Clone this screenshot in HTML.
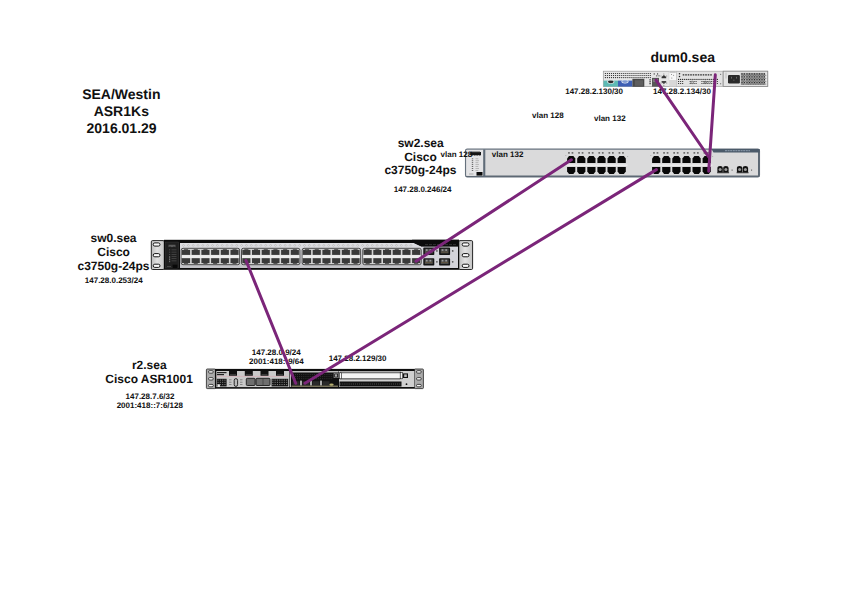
<!DOCTYPE html>
<html><head><meta charset="utf-8">
<style>
html,body{margin:0;padding:0;background:#fff;width:842px;height:595px;overflow:hidden}
svg{position:absolute;left:0;top:0}
text{font-family:"Liberation Sans",sans-serif;font-weight:bold;fill:#111;text-rendering:geometricPrecision}
</style></head>
<body>
<svg width="842" height="595" viewBox="0 0 842 595">
<g id="dum0">
<rect x="603.3" y="71.2" width="164.5" height="15.4" fill="#e6e6e6" stroke="#9a9a9a" stroke-width="0.7"/>
<circle cx="605.4" cy="73.5" r="0.62" fill="#1e1e1e"/>
<circle cx="607.44" cy="73.5" r="0.62" fill="#1e1e1e"/>
<circle cx="609.48" cy="73.5" r="0.62" fill="#1e1e1e"/>
<circle cx="611.52" cy="73.5" r="0.62" fill="#1e1e1e"/>
<circle cx="613.56" cy="73.5" r="0.62" fill="#1e1e1e"/>
<circle cx="615.6" cy="73.5" r="0.62" fill="#1e1e1e"/>
<circle cx="617.64" cy="73.5" r="0.62" fill="#1e1e1e"/>
<circle cx="619.68" cy="73.5" r="0.62" fill="#1e1e1e"/>
<circle cx="621.72" cy="73.5" r="0.62" fill="#1e1e1e"/>
<circle cx="623.76" cy="73.5" r="0.62" fill="#1e1e1e"/>
<circle cx="625.8" cy="73.5" r="0.62" fill="#1e1e1e"/>
<circle cx="627.84" cy="73.5" r="0.62" fill="#1e1e1e"/>
<circle cx="629.88" cy="73.5" r="0.62" fill="#1e1e1e"/>
<circle cx="631.92" cy="73.5" r="0.62" fill="#1e1e1e"/>
<circle cx="633.96" cy="73.5" r="0.62" fill="#1e1e1e"/>
<circle cx="636" cy="73.5" r="0.62" fill="#1e1e1e"/>
<circle cx="638.04" cy="73.5" r="0.62" fill="#1e1e1e"/>
<circle cx="640.08" cy="73.5" r="0.62" fill="#1e1e1e"/>
<circle cx="642.12" cy="73.5" r="0.62" fill="#1e1e1e"/>
<circle cx="644.16" cy="73.5" r="0.62" fill="#1e1e1e"/>
<circle cx="646.2" cy="73.5" r="0.62" fill="#1e1e1e"/>
<circle cx="648.24" cy="73.5" r="0.62" fill="#1e1e1e"/>
<circle cx="650.28" cy="73.5" r="0.62" fill="#1e1e1e"/>
<circle cx="605.4" cy="75.5" r="0.62" fill="#1e1e1e"/>
<circle cx="607.44" cy="75.5" r="0.62" fill="#1e1e1e"/>
<circle cx="609.48" cy="75.5" r="0.62" fill="#1e1e1e"/>
<circle cx="611.52" cy="75.5" r="0.62" fill="#1e1e1e"/>
<circle cx="613.56" cy="75.5" r="0.62" fill="#1e1e1e"/>
<circle cx="615.6" cy="75.5" r="0.62" fill="#1e1e1e"/>
<circle cx="617.64" cy="75.5" r="0.62" fill="#1e1e1e"/>
<circle cx="619.68" cy="75.5" r="0.62" fill="#1e1e1e"/>
<circle cx="621.72" cy="75.5" r="0.62" fill="#1e1e1e"/>
<circle cx="623.76" cy="75.5" r="0.62" fill="#1e1e1e"/>
<circle cx="625.8" cy="75.5" r="0.62" fill="#1e1e1e"/>
<circle cx="627.84" cy="75.5" r="0.62" fill="#1e1e1e"/>
<circle cx="629.88" cy="75.5" r="0.62" fill="#1e1e1e"/>
<circle cx="631.92" cy="75.5" r="0.62" fill="#1e1e1e"/>
<circle cx="633.96" cy="75.5" r="0.62" fill="#1e1e1e"/>
<circle cx="636" cy="75.5" r="0.62" fill="#1e1e1e"/>
<circle cx="638.04" cy="75.5" r="0.62" fill="#1e1e1e"/>
<circle cx="640.08" cy="75.5" r="0.62" fill="#1e1e1e"/>
<circle cx="642.12" cy="75.5" r="0.62" fill="#1e1e1e"/>
<circle cx="644.16" cy="75.5" r="0.62" fill="#1e1e1e"/>
<circle cx="646.2" cy="75.5" r="0.62" fill="#1e1e1e"/>
<circle cx="648.24" cy="75.5" r="0.62" fill="#1e1e1e"/>
<circle cx="650.28" cy="75.5" r="0.62" fill="#1e1e1e"/>
<circle cx="605.4" cy="77.6" r="0.62" fill="#1e1e1e"/>
<circle cx="607.44" cy="77.6" r="0.62" fill="#1e1e1e"/>
<circle cx="609.48" cy="77.6" r="0.62" fill="#1e1e1e"/>
<circle cx="611.52" cy="77.6" r="0.62" fill="#1e1e1e"/>
<circle cx="613.56" cy="77.6" r="0.62" fill="#1e1e1e"/>
<circle cx="615.6" cy="77.6" r="0.62" fill="#1e1e1e"/>
<circle cx="617.64" cy="77.6" r="0.62" fill="#1e1e1e"/>
<circle cx="619.68" cy="77.6" r="0.62" fill="#1e1e1e"/>
<circle cx="621.72" cy="77.6" r="0.62" fill="#1e1e1e"/>
<circle cx="623.76" cy="77.6" r="0.62" fill="#1e1e1e"/>
<circle cx="625.8" cy="77.6" r="0.62" fill="#1e1e1e"/>
<circle cx="627.84" cy="77.6" r="0.62" fill="#1e1e1e"/>
<circle cx="629.88" cy="77.6" r="0.62" fill="#1e1e1e"/>
<circle cx="631.92" cy="77.6" r="0.62" fill="#1e1e1e"/>
<circle cx="633.96" cy="77.6" r="0.62" fill="#1e1e1e"/>
<circle cx="636" cy="77.6" r="0.62" fill="#1e1e1e"/>
<circle cx="638.04" cy="77.6" r="0.62" fill="#1e1e1e"/>
<circle cx="640.08" cy="77.6" r="0.62" fill="#1e1e1e"/>
<circle cx="642.12" cy="77.6" r="0.62" fill="#1e1e1e"/>
<circle cx="644.16" cy="77.6" r="0.62" fill="#1e1e1e"/>
<circle cx="646.2" cy="77.6" r="0.62" fill="#1e1e1e"/>
<circle cx="648.24" cy="77.6" r="0.62" fill="#1e1e1e"/>
<circle cx="650.28" cy="77.6" r="0.62" fill="#1e1e1e"/>
<rect x="603.5" y="80.6" width="14.5" height="6" fill="#5dbab4"/>
<rect x="618" y="80.6" width="14.4" height="6" fill="#3d5fb5"/>
<ellipse cx="610.8" cy="81.8" rx="3.6" ry="1.9" fill="#f0f0f0"/>
<ellipse cx="610.8" cy="81.8" rx="2.9" ry="1.35" fill="#2a2a2a"/>
<ellipse cx="625" cy="81.6" rx="3.6" ry="1.9" fill="#e8eef8"/>
<ellipse cx="625" cy="81.6" rx="2.9" ry="1.3" fill="#7f9ad0"/>
<rect x="632.4" y="78.8" width="11.9" height="8" fill="#484848"/>
<rect x="634.8" y="80.2" width="8.2" height="5.6" fill="#5e5e5e"/>
<rect x="649.3" y="79.2" width="1.6" height="1.3" fill="#555"/>
<rect x="649.3" y="81.1" width="1.6" height="1.3" fill="#555"/>
<rect x="649.3" y="83" width="1.6" height="1.3" fill="#555"/>
<rect x="652" y="77.9" width="7" height="8.8" fill="#575757"/>
<rect x="653" y="79" width="5" height="3" fill="#7a7a7a"/>
<circle cx="654.2" cy="73.9" r="0.6" fill="#222"/>
<circle cx="657.6" cy="73.9" r="0.6" fill="#222"/>
<circle cx="656.8" cy="75.8" r="0.6" fill="#222"/>
<circle cx="659" cy="75.8" r="0.6" fill="#222"/>
<path d="M661.6,78.3 L661.6,77 L663.9,75 L666.2,77 L666.2,78.3 Z" fill="#333"/>
<path d="M661.6,80.9 L666.2,80.9 L666.2,82.3 L663.9,84 L661.6,82.3 Z" fill="#444"/>
<circle cx="661" cy="76" r="0.45" fill="#333"/>
<circle cx="666.8" cy="76" r="0.45" fill="#333"/>
<circle cx="661" cy="83" r="0.45" fill="#333"/>
<circle cx="666.8" cy="83" r="0.45" fill="#333"/>
<circle cx="663.9" cy="74" r="0.45" fill="#333"/>
<circle cx="663.9" cy="85.2" r="0.45" fill="#333"/>
<rect x="669" y="71.2" width="7.4" height="9.1" fill="#f7f7f7" stroke="#c0c0c0" stroke-width="0.4"/>
<rect x="669.6" y="71.6" width="6.2" height="0.9" fill="#999"/>
<circle cx="671.5" cy="74.5" r="0.5" fill="#777"/><circle cx="673.6" cy="75.2" r="0.5" fill="#777"/><circle cx="671.8" cy="78" r="0.5" fill="#777"/>
<rect x="669.2" y="80.3" width="7.2" height="6.2" fill="#d8d8d8"/>
<rect x="676.6" y="71.5" width="46" height="14.9" fill="#e2e2e2" stroke="#b0b0b0" stroke-width="0.4"/>
<circle cx="679.5" cy="73.8" r="0.75" fill="#222"/><circle cx="679.5" cy="76.4" r="0.75" fill="#222"/>
<line x1="682.7" y1="74.9" x2="712" y2="74.9" stroke="#2a2a2a" stroke-width="1.1" stroke-dasharray="1.6 0.9"/>
<circle cx="678.6" cy="79.4" r="0.62" fill="#1e1e1e"/>
<circle cx="680.64" cy="79.4" r="0.62" fill="#1e1e1e"/>
<circle cx="682.68" cy="79.4" r="0.62" fill="#1e1e1e"/>
<circle cx="684.72" cy="79.4" r="0.62" fill="#1e1e1e"/>
<circle cx="686.76" cy="79.4" r="0.62" fill="#1e1e1e"/>
<circle cx="688.8" cy="79.4" r="0.62" fill="#1e1e1e"/>
<circle cx="690.84" cy="79.4" r="0.62" fill="#1e1e1e"/>
<circle cx="692.88" cy="79.4" r="0.62" fill="#1e1e1e"/>
<circle cx="694.92" cy="79.4" r="0.62" fill="#1e1e1e"/>
<circle cx="696.96" cy="79.4" r="0.62" fill="#1e1e1e"/>
<circle cx="699" cy="79.4" r="0.62" fill="#1e1e1e"/>
<circle cx="701.04" cy="79.4" r="0.62" fill="#1e1e1e"/>
<circle cx="703.08" cy="79.4" r="0.62" fill="#1e1e1e"/>
<circle cx="705.12" cy="79.4" r="0.62" fill="#1e1e1e"/>
<circle cx="707.16" cy="79.4" r="0.62" fill="#1e1e1e"/>
<circle cx="709.2" cy="79.4" r="0.62" fill="#1e1e1e"/>
<circle cx="711.24" cy="79.4" r="0.62" fill="#1e1e1e"/>
<circle cx="713.28" cy="79.4" r="0.62" fill="#1e1e1e"/>
<circle cx="715.32" cy="79.4" r="0.62" fill="#1e1e1e"/>
<circle cx="717.36" cy="79.4" r="0.62" fill="#1e1e1e"/>
<circle cx="678.6" cy="81.5" r="0.62" fill="#1e1e1e"/>
<circle cx="680.64" cy="81.5" r="0.62" fill="#1e1e1e"/>
<circle cx="682.68" cy="81.5" r="0.62" fill="#1e1e1e"/>
<circle cx="684.72" cy="81.5" r="0.62" fill="#1e1e1e"/>
<circle cx="686.76" cy="81.5" r="0.62" fill="#1e1e1e"/>
<circle cx="688.8" cy="81.5" r="0.62" fill="#1e1e1e"/>
<circle cx="690.84" cy="81.5" r="0.62" fill="#1e1e1e"/>
<circle cx="692.88" cy="81.5" r="0.62" fill="#1e1e1e"/>
<circle cx="694.92" cy="81.5" r="0.62" fill="#1e1e1e"/>
<circle cx="696.96" cy="81.5" r="0.62" fill="#1e1e1e"/>
<circle cx="699" cy="81.5" r="0.62" fill="#1e1e1e"/>
<circle cx="701.04" cy="81.5" r="0.62" fill="#1e1e1e"/>
<circle cx="703.08" cy="81.5" r="0.62" fill="#1e1e1e"/>
<circle cx="705.12" cy="81.5" r="0.62" fill="#1e1e1e"/>
<circle cx="707.16" cy="81.5" r="0.62" fill="#1e1e1e"/>
<circle cx="709.2" cy="81.5" r="0.62" fill="#1e1e1e"/>
<circle cx="711.24" cy="81.5" r="0.62" fill="#1e1e1e"/>
<circle cx="713.28" cy="81.5" r="0.62" fill="#1e1e1e"/>
<circle cx="715.32" cy="81.5" r="0.62" fill="#1e1e1e"/>
<circle cx="717.36" cy="81.5" r="0.62" fill="#1e1e1e"/>
<circle cx="678.6" cy="83.5" r="0.62" fill="#1e1e1e"/>
<circle cx="680.64" cy="83.5" r="0.62" fill="#1e1e1e"/>
<circle cx="682.68" cy="83.5" r="0.62" fill="#1e1e1e"/>
<circle cx="684.72" cy="83.5" r="0.62" fill="#1e1e1e"/>
<circle cx="686.76" cy="83.5" r="0.62" fill="#1e1e1e"/>
<circle cx="688.8" cy="83.5" r="0.62" fill="#1e1e1e"/>
<circle cx="690.84" cy="83.5" r="0.62" fill="#1e1e1e"/>
<circle cx="692.88" cy="83.5" r="0.62" fill="#1e1e1e"/>
<circle cx="694.92" cy="83.5" r="0.62" fill="#1e1e1e"/>
<circle cx="696.96" cy="83.5" r="0.62" fill="#1e1e1e"/>
<circle cx="699" cy="83.5" r="0.62" fill="#1e1e1e"/>
<circle cx="701.04" cy="83.5" r="0.62" fill="#1e1e1e"/>
<circle cx="703.08" cy="83.5" r="0.62" fill="#1e1e1e"/>
<circle cx="705.12" cy="83.5" r="0.62" fill="#1e1e1e"/>
<circle cx="707.16" cy="83.5" r="0.62" fill="#1e1e1e"/>
<circle cx="709.2" cy="83.5" r="0.62" fill="#1e1e1e"/>
<circle cx="711.24" cy="83.5" r="0.62" fill="#1e1e1e"/>
<circle cx="713.28" cy="83.5" r="0.62" fill="#1e1e1e"/>
<circle cx="715.32" cy="83.5" r="0.62" fill="#1e1e1e"/>
<circle cx="717.36" cy="83.5" r="0.62" fill="#1e1e1e"/>
<circle cx="692.2" cy="82.4" r="1.3" fill="#ccc" stroke="#555" stroke-width="0.6"/>
<circle cx="705.3" cy="82.4" r="1.2" fill="#aaa" stroke="#444" stroke-width="0.6"/>
<circle cx="709.4" cy="82.4" r="1.2" fill="#ccc" stroke="#666" stroke-width="0.6"/>
<rect x="684" y="80.6" width="5" height="3.6" fill="#e2e2e2"/>
<rect x="697" y="80.6" width="4" height="3.6" fill="#e2e2e2"/>
<circle cx="720.7" cy="74.3" r="0.5" fill="#333"/><circle cx="720.7" cy="83.8" r="0.5" fill="#333"/>
<rect x="723.2" y="71.2" width="44.5" height="15.3" fill="#e4e4e4" stroke="#8a8a8a" stroke-width="0.8"/>
<line x1="726" y1="72.6" x2="726" y2="78.5" stroke="#999" stroke-width="0.5"/>
<rect x="728" y="74.9" width="11.9" height="8.6" rx="1.2" fill="#2a2a2a"/>
<rect x="731" y="76.8" width="0.8" height="1.8" fill="#777"/><rect x="736" y="76.8" width="0.8" height="1.8" fill="#777"/><rect x="733.5" y="79.6" width="0.8" height="1.2" fill="#777"/>
<rect x="740.8" y="72.9" width="24.3" height="12.1" fill="#939393"/>
<rect x="744.8" y="72.9" width="0.9" height="12.1" fill="#bdbdbd"/>
<circle cx="742" cy="73.9" r="0.6" fill="#1e1e1e"/>
<circle cx="743.25" cy="75.35" r="0.5" fill="#5a5a5a"/>
<circle cx="744.5" cy="73.9" r="0.6" fill="#1e1e1e"/>
<circle cx="745.75" cy="75.35" r="0.5" fill="#5a5a5a"/>
<circle cx="747" cy="73.9" r="0.6" fill="#1e1e1e"/>
<circle cx="748.25" cy="75.35" r="0.5" fill="#5a5a5a"/>
<circle cx="749.5" cy="73.9" r="0.6" fill="#1e1e1e"/>
<circle cx="750.75" cy="75.35" r="0.5" fill="#5a5a5a"/>
<circle cx="752" cy="73.9" r="0.6" fill="#1e1e1e"/>
<circle cx="753.25" cy="75.35" r="0.5" fill="#5a5a5a"/>
<circle cx="754.5" cy="73.9" r="0.6" fill="#1e1e1e"/>
<circle cx="755.75" cy="75.35" r="0.5" fill="#5a5a5a"/>
<circle cx="757" cy="73.9" r="0.6" fill="#1e1e1e"/>
<circle cx="758.25" cy="75.35" r="0.5" fill="#5a5a5a"/>
<circle cx="759.5" cy="73.9" r="0.6" fill="#1e1e1e"/>
<circle cx="760.75" cy="75.35" r="0.5" fill="#5a5a5a"/>
<circle cx="762" cy="73.9" r="0.6" fill="#1e1e1e"/>
<circle cx="763.25" cy="75.35" r="0.5" fill="#5a5a5a"/>
<circle cx="764.5" cy="73.9" r="0.6" fill="#1e1e1e"/>
<circle cx="765.75" cy="75.35" r="0.5" fill="#5a5a5a"/>
<circle cx="742" cy="76.8" r="0.6" fill="#1e1e1e"/>
<circle cx="743.25" cy="78.25" r="0.5" fill="#5a5a5a"/>
<circle cx="744.5" cy="76.8" r="0.6" fill="#1e1e1e"/>
<circle cx="745.75" cy="78.25" r="0.5" fill="#5a5a5a"/>
<circle cx="747" cy="76.8" r="0.6" fill="#1e1e1e"/>
<circle cx="748.25" cy="78.25" r="0.5" fill="#5a5a5a"/>
<circle cx="749.5" cy="76.8" r="0.6" fill="#1e1e1e"/>
<circle cx="750.75" cy="78.25" r="0.5" fill="#5a5a5a"/>
<circle cx="752" cy="76.8" r="0.6" fill="#1e1e1e"/>
<circle cx="753.25" cy="78.25" r="0.5" fill="#5a5a5a"/>
<circle cx="754.5" cy="76.8" r="0.6" fill="#1e1e1e"/>
<circle cx="755.75" cy="78.25" r="0.5" fill="#5a5a5a"/>
<circle cx="757" cy="76.8" r="0.6" fill="#1e1e1e"/>
<circle cx="758.25" cy="78.25" r="0.5" fill="#5a5a5a"/>
<circle cx="759.5" cy="76.8" r="0.6" fill="#1e1e1e"/>
<circle cx="760.75" cy="78.25" r="0.5" fill="#5a5a5a"/>
<circle cx="762" cy="76.8" r="0.6" fill="#1e1e1e"/>
<circle cx="763.25" cy="78.25" r="0.5" fill="#5a5a5a"/>
<circle cx="764.5" cy="76.8" r="0.6" fill="#1e1e1e"/>
<circle cx="765.75" cy="78.25" r="0.5" fill="#5a5a5a"/>
<circle cx="742" cy="79.7" r="0.6" fill="#1e1e1e"/>
<circle cx="743.25" cy="81.15" r="0.5" fill="#5a5a5a"/>
<circle cx="744.5" cy="79.7" r="0.6" fill="#1e1e1e"/>
<circle cx="745.75" cy="81.15" r="0.5" fill="#5a5a5a"/>
<circle cx="747" cy="79.7" r="0.6" fill="#1e1e1e"/>
<circle cx="748.25" cy="81.15" r="0.5" fill="#5a5a5a"/>
<circle cx="749.5" cy="79.7" r="0.6" fill="#1e1e1e"/>
<circle cx="750.75" cy="81.15" r="0.5" fill="#5a5a5a"/>
<circle cx="752" cy="79.7" r="0.6" fill="#1e1e1e"/>
<circle cx="753.25" cy="81.15" r="0.5" fill="#5a5a5a"/>
<circle cx="754.5" cy="79.7" r="0.6" fill="#1e1e1e"/>
<circle cx="755.75" cy="81.15" r="0.5" fill="#5a5a5a"/>
<circle cx="757" cy="79.7" r="0.6" fill="#1e1e1e"/>
<circle cx="758.25" cy="81.15" r="0.5" fill="#5a5a5a"/>
<circle cx="759.5" cy="79.7" r="0.6" fill="#1e1e1e"/>
<circle cx="760.75" cy="81.15" r="0.5" fill="#5a5a5a"/>
<circle cx="762" cy="79.7" r="0.6" fill="#1e1e1e"/>
<circle cx="763.25" cy="81.15" r="0.5" fill="#5a5a5a"/>
<circle cx="764.5" cy="79.7" r="0.6" fill="#1e1e1e"/>
<circle cx="765.75" cy="81.15" r="0.5" fill="#5a5a5a"/>
<circle cx="742" cy="82.6" r="0.6" fill="#1e1e1e"/>
<circle cx="743.25" cy="84.05" r="0.5" fill="#5a5a5a"/>
<circle cx="744.5" cy="82.6" r="0.6" fill="#1e1e1e"/>
<circle cx="745.75" cy="84.05" r="0.5" fill="#5a5a5a"/>
<circle cx="747" cy="82.6" r="0.6" fill="#1e1e1e"/>
<circle cx="748.25" cy="84.05" r="0.5" fill="#5a5a5a"/>
<circle cx="749.5" cy="82.6" r="0.6" fill="#1e1e1e"/>
<circle cx="750.75" cy="84.05" r="0.5" fill="#5a5a5a"/>
<circle cx="752" cy="82.6" r="0.6" fill="#1e1e1e"/>
<circle cx="753.25" cy="84.05" r="0.5" fill="#5a5a5a"/>
<circle cx="754.5" cy="82.6" r="0.6" fill="#1e1e1e"/>
<circle cx="755.75" cy="84.05" r="0.5" fill="#5a5a5a"/>
<circle cx="757" cy="82.6" r="0.6" fill="#1e1e1e"/>
<circle cx="758.25" cy="84.05" r="0.5" fill="#5a5a5a"/>
<circle cx="759.5" cy="82.6" r="0.6" fill="#1e1e1e"/>
<circle cx="760.75" cy="84.05" r="0.5" fill="#5a5a5a"/>
<circle cx="762" cy="82.6" r="0.6" fill="#1e1e1e"/>
<circle cx="763.25" cy="84.05" r="0.5" fill="#5a5a5a"/>
<circle cx="764.5" cy="82.6" r="0.6" fill="#1e1e1e"/>
<circle cx="765.75" cy="84.05" r="0.5" fill="#5a5a5a"/>
</g>
<g id="sw2">
<rect x="465.6" y="149.2" width="293.8" height="27.6" rx="1.6" fill="#dadadb" stroke="#66717d" stroke-width="1.3"/>
<line x1="466" y1="176.3" x2="759" y2="176.3" stroke="#5d6874" stroke-width="1.4"/>
<line x1="758.8" y1="150" x2="758.8" y2="176.5" stroke="#5d6874" stroke-width="1.6"/>
<path d="M711.5,149 L759.6,149 L759.6,152.4 L713.5,152.4 Z" fill="#4b5a6a"/>
<line x1="725" y1="150.7" x2="750" y2="150.7" stroke="#9fb0c0" stroke-width="0.8" stroke-dasharray="2 0.6"/>
<rect x="466.3" y="149.9" width="17" height="26" fill="#e4e4e6"/>
<rect x="483.2" y="149.5" width="2.1" height="27" fill="#5f6b78"/>
<path d="M470.3,152 L481,152 L481,155 Q479.5,156 478.5,155 Q477,156 476,155 Q474.5,156 473.5,155 Q472,156 471,155 L470.3,155 Z" fill="#151515"/>
<rect x="471" y="151.2" width="9" height="1" fill="#8a8a8a"/>
<rect x="471.8" y="158.5" width="1.4" height="0.7" fill="#333"/>
<rect x="475.5" y="158.4" width="2.8" height="0.8" fill="#aaa"/>
<rect x="471.8" y="160.45" width="1.4" height="0.7" fill="#333"/>
<rect x="475.5" y="160.35" width="3.5" height="0.8" fill="#aaa"/>
<rect x="471.8" y="162.4" width="1.4" height="0.7" fill="#333"/>
<rect x="475.5" y="162.3" width="2.8" height="0.8" fill="#aaa"/>
<rect x="471.8" y="164.35" width="1.4" height="0.7" fill="#333"/>
<rect x="475.5" y="164.25" width="3.5" height="0.8" fill="#aaa"/>
<rect x="471.8" y="166.3" width="1.4" height="0.7" fill="#333"/>
<rect x="475.5" y="166.2" width="2.8" height="0.8" fill="#aaa"/>
<rect x="471.8" y="168.25" width="1.4" height="0.7" fill="#333"/>
<rect x="475.5" y="168.15" width="3.5" height="0.8" fill="#aaa"/>
<rect x="471.8" y="170.2" width="1.4" height="0.7" fill="#333"/>
<rect x="475.5" y="170.1" width="2.8" height="0.8" fill="#aaa"/>
<rect x="476.5" y="172" width="6" height="3.6" fill="#0a0a0a"/>
<rect x="469" y="173.5" width="4.5" height="1" fill="#aaa"/>
<rect x="566.4" y="164.4" width="61" height="1.6" fill="#ececec"/>
<path d="M567.1,163 L567.1,158.6 L569,156.1 L573.4,156.1 L575.3,158.6 L575.3,163 Z" fill="#080808"/>
<path d="M567.1,167.1 L567.1,171.5 L569,174 L573.4,174 L575.3,171.5 L575.3,167.1 Z" fill="#080808"/>
<rect x="568.1" y="152.2" width="1.7" height="1.4" fill="#555"/>
<rect x="571.6" y="152.2" width="1.7" height="1.4" fill="#555"/>
<path d="M577.2,163 L577.2,158.6 L579.1,156.1 L583.5,156.1 L585.4,158.6 L585.4,163 Z" fill="#080808"/>
<path d="M577.2,167.1 L577.2,171.5 L579.1,174 L583.5,174 L585.4,171.5 L585.4,167.1 Z" fill="#080808"/>
<rect x="578.2" y="152.2" width="1.7" height="1.4" fill="#555"/>
<rect x="581.7" y="152.2" width="1.7" height="1.4" fill="#555"/>
<path d="M587.3,163 L587.3,158.6 L589.2,156.1 L593.6,156.1 L595.5,158.6 L595.5,163 Z" fill="#080808"/>
<path d="M587.3,167.1 L587.3,171.5 L589.2,174 L593.6,174 L595.5,171.5 L595.5,167.1 Z" fill="#080808"/>
<rect x="588.3" y="152.2" width="1.7" height="1.4" fill="#555"/>
<rect x="591.8" y="152.2" width="1.7" height="1.4" fill="#555"/>
<path d="M597.4,163 L597.4,158.6 L599.3,156.1 L603.7,156.1 L605.6,158.6 L605.6,163 Z" fill="#080808"/>
<path d="M597.4,167.1 L597.4,171.5 L599.3,174 L603.7,174 L605.6,171.5 L605.6,167.1 Z" fill="#080808"/>
<rect x="598.4" y="152.2" width="1.7" height="1.4" fill="#555"/>
<rect x="601.9" y="152.2" width="1.7" height="1.4" fill="#555"/>
<path d="M607.5,163 L607.5,158.6 L609.4,156.1 L613.8,156.1 L615.7,158.6 L615.7,163 Z" fill="#080808"/>
<path d="M607.5,167.1 L607.5,171.5 L609.4,174 L613.8,174 L615.7,171.5 L615.7,167.1 Z" fill="#080808"/>
<rect x="608.5" y="152.2" width="1.7" height="1.4" fill="#555"/>
<rect x="612" y="152.2" width="1.7" height="1.4" fill="#555"/>
<path d="M617.6,163 L617.6,158.6 L619.5,156.1 L623.9,156.1 L625.8,158.6 L625.8,163 Z" fill="#080808"/>
<path d="M617.6,167.1 L617.6,171.5 L619.5,174 L623.9,174 L625.8,171.5 L625.8,167.1 Z" fill="#080808"/>
<rect x="618.6" y="152.2" width="1.7" height="1.4" fill="#555"/>
<rect x="622.1" y="152.2" width="1.7" height="1.4" fill="#555"/>
<rect x="565.3" y="155" width="1" height="0.5" fill="#888"/>
<rect x="627.1" y="156" width="1" height="0.5" fill="#888"/>
<rect x="651.4" y="164.4" width="61" height="1.6" fill="#ececec"/>
<path d="M652.1,163 L652.1,158.6 L654,156.1 L658.4,156.1 L660.3,158.6 L660.3,163 Z" fill="#080808"/>
<path d="M652.1,167.1 L652.1,171.5 L654,174 L658.4,174 L660.3,171.5 L660.3,167.1 Z" fill="#080808"/>
<rect x="653.1" y="152.2" width="1.7" height="1.4" fill="#555"/>
<rect x="656.6" y="152.2" width="1.7" height="1.4" fill="#555"/>
<path d="M662.2,163 L662.2,158.6 L664.1,156.1 L668.5,156.1 L670.4,158.6 L670.4,163 Z" fill="#080808"/>
<path d="M662.2,167.1 L662.2,171.5 L664.1,174 L668.5,174 L670.4,171.5 L670.4,167.1 Z" fill="#080808"/>
<rect x="663.2" y="152.2" width="1.7" height="1.4" fill="#555"/>
<rect x="666.7" y="152.2" width="1.7" height="1.4" fill="#555"/>
<path d="M672.3,163 L672.3,158.6 L674.2,156.1 L678.6,156.1 L680.5,158.6 L680.5,163 Z" fill="#080808"/>
<path d="M672.3,167.1 L672.3,171.5 L674.2,174 L678.6,174 L680.5,171.5 L680.5,167.1 Z" fill="#080808"/>
<rect x="673.3" y="152.2" width="1.7" height="1.4" fill="#555"/>
<rect x="676.8" y="152.2" width="1.7" height="1.4" fill="#555"/>
<path d="M682.4,163 L682.4,158.6 L684.3,156.1 L688.7,156.1 L690.6,158.6 L690.6,163 Z" fill="#080808"/>
<path d="M682.4,167.1 L682.4,171.5 L684.3,174 L688.7,174 L690.6,171.5 L690.6,167.1 Z" fill="#080808"/>
<rect x="683.4" y="152.2" width="1.7" height="1.4" fill="#555"/>
<rect x="686.9" y="152.2" width="1.7" height="1.4" fill="#555"/>
<path d="M692.5,163 L692.5,158.6 L694.4,156.1 L698.8,156.1 L700.7,158.6 L700.7,163 Z" fill="#080808"/>
<path d="M692.5,167.1 L692.5,171.5 L694.4,174 L698.8,174 L700.7,171.5 L700.7,167.1 Z" fill="#080808"/>
<rect x="693.5" y="152.2" width="1.7" height="1.4" fill="#555"/>
<rect x="697" y="152.2" width="1.7" height="1.4" fill="#555"/>
<path d="M702.6,163 L702.6,158.6 L704.5,156.1 L708.9,156.1 L710.8,158.6 L710.8,163 Z" fill="#080808"/>
<path d="M702.6,167.1 L702.6,171.5 L704.5,174 L708.9,174 L710.8,171.5 L710.8,167.1 Z" fill="#080808"/>
<rect x="703.6" y="152.2" width="1.7" height="1.4" fill="#555"/>
<rect x="707.1" y="152.2" width="1.7" height="1.4" fill="#555"/>
<rect x="650.3" y="155" width="1" height="0.5" fill="#888"/>
<rect x="712.1" y="156" width="1" height="0.5" fill="#888"/>
<path d="M717.4,172.6 L717.4,168 Q717.4,165.9 720.1,165.9 Q722.8,165.9 722.8,168 L722.8,172.6 Z" fill="#111"/>
<circle cx="720.1" cy="169.6" r="1.5" fill="#9a9a9a"/>
<path d="M723.2,172.6 L723.2,168 Q723.2,165.9 725.9,165.9 Q728.6,165.9 728.6,168 L728.6,172.6 Z" fill="#111"/>
<circle cx="725.9" cy="169.6" r="1.5" fill="#9a9a9a"/>
<rect x="717.1" y="172.4" width="12" height="0.8" fill="#111"/>
<rect x="731.6" y="169.6" width="1" height="1" fill="#444"/>
<path d="M736.9,172.6 L736.9,168 Q736.9,165.9 739.6,165.9 Q742.3,165.9 742.3,168 L742.3,172.6 Z" fill="#111"/>
<circle cx="739.6" cy="169.6" r="1.5" fill="#9a9a9a"/>
<path d="M742.7,172.6 L742.7,168 Q742.7,165.9 745.4,165.9 Q748.1,165.9 748.1,168 L748.1,172.6 Z" fill="#111"/>
<circle cx="745.4" cy="169.6" r="1.5" fill="#9a9a9a"/>
<rect x="736.6" y="172.4" width="12" height="0.8" fill="#111"/>
<rect x="751.1" y="169.6" width="1" height="1" fill="#444"/>
</g>
<g id="sw0">
<defs><linearGradient id="ge" x1="0" y1="0" x2="1" y2="0"><stop offset="0" stop-color="#bdbdbd"/><stop offset="0.45" stop-color="#e2e2e2"/><stop offset="1" stop-color="#c4c4c4"/></linearGradient><linearGradient id="g0" x1="0" y1="0" x2="0" y2="1"><stop offset="0" stop-color="#dedee2"/><stop offset="0.5" stop-color="#cfcfd3"/><stop offset="1" stop-color="#c2c2c6"/></linearGradient></defs>
<rect x="151.3" y="240.6" width="13" height="28.9" rx="1.2" fill="url(#ge)" stroke="#111" stroke-width="0.9"/>
<rect x="458.8" y="240.6" width="13.8" height="28.9" rx="1.2" fill="url(#ge)" stroke="#111" stroke-width="0.9"/>
<rect x="153.2" y="242.9" width="6.8" height="3.2" rx="1.6" fill="#fbfbfb" stroke="#0a0a0a" stroke-width="0.95"/>
<rect x="153.2" y="253.6" width="6.8" height="3.2" rx="1.6" fill="#fbfbfb" stroke="#0a0a0a" stroke-width="0.95"/>
<rect x="153.2" y="264.2" width="6.8" height="3.2" rx="1.6" fill="#fbfbfb" stroke="#0a0a0a" stroke-width="0.95"/>
<rect x="462.2" y="242.9" width="6.8" height="3.2" rx="1.6" fill="#fbfbfb" stroke="#0a0a0a" stroke-width="0.95"/>
<rect x="462.2" y="253.6" width="6.8" height="3.2" rx="1.6" fill="#fbfbfb" stroke="#0a0a0a" stroke-width="0.95"/>
<rect x="462.2" y="264.2" width="6.8" height="3.2" rx="1.6" fill="#fbfbfb" stroke="#0a0a0a" stroke-width="0.95"/>
<rect x="164" y="239.8" width="295" height="30" fill="#0b0b0b"/>
<rect x="165.6" y="242" width="13" height="26" fill="#1f1f1f" stroke="#3a3a3a" stroke-width="0.5"/>
<path d="M168.5,244.8 L175.5,244.8 L175.5,247.3 L174,246.6 L172,247.3 L170,246.6 L168.5,247.3 Z" fill="#5a5a5a"/>
<rect x="171.5" y="249.6" width="5" height="0.6" fill="#555"/>
<rect x="169" y="249.6" width="1.2" height="0.6" fill="#6a6a6a"/>
<rect x="171.5" y="251.8" width="5" height="0.6" fill="#555"/>
<rect x="169" y="251.8" width="1.2" height="0.6" fill="#6a6a6a"/>
<rect x="171.5" y="254" width="5" height="0.6" fill="#555"/>
<rect x="169" y="254" width="1.2" height="0.6" fill="#6a6a6a"/>
<rect x="171.5" y="256.2" width="5" height="0.6" fill="#555"/>
<rect x="169" y="256.2" width="1.2" height="1.6" fill="#6a6a6a"/>
<rect x="171.5" y="258.4" width="5" height="0.6" fill="#555"/>
<rect x="169" y="258.4" width="1.2" height="1.6" fill="#6a6a6a"/>
<rect x="171.5" y="260.6" width="5" height="0.6" fill="#555"/>
<rect x="169" y="260.6" width="1.2" height="1.6" fill="#6a6a6a"/>
<rect x="172.6" y="264.7" width="4.8" height="3.3" fill="#080808"/>
<rect x="167" y="266" width="4" height="0.7" fill="#555"/>
<path d="M180,243.1 L414,243.1 L421.5,246.5 L458,246.5 L458,267.9 L180,267.9 Z" fill="url(#g0)"/>
<rect x="421.5" y="246.5" width="36.5" height="21.4" fill="#d4d4da"/>
<circle cx="183.5" cy="245.4" r="0.85" fill="#f4f4f4" stroke="#9a9a9a" stroke-width="0.45"/>
<circle cx="188.34" cy="245.4" r="0.85" fill="#f4f4f4" stroke="#9a9a9a" stroke-width="0.45"/>
<circle cx="193.18" cy="245.4" r="0.85" fill="#f4f4f4" stroke="#9a9a9a" stroke-width="0.45"/>
<circle cx="198.02" cy="245.4" r="0.85" fill="#f4f4f4" stroke="#9a9a9a" stroke-width="0.45"/>
<circle cx="202.86" cy="245.4" r="0.85" fill="#f4f4f4" stroke="#9a9a9a" stroke-width="0.45"/>
<circle cx="207.7" cy="245.4" r="0.85" fill="#f4f4f4" stroke="#9a9a9a" stroke-width="0.45"/>
<circle cx="212.54" cy="245.4" r="0.85" fill="#f4f4f4" stroke="#9a9a9a" stroke-width="0.45"/>
<circle cx="217.38" cy="245.4" r="0.85" fill="#f4f4f4" stroke="#9a9a9a" stroke-width="0.45"/>
<circle cx="222.22" cy="245.4" r="0.85" fill="#f4f4f4" stroke="#9a9a9a" stroke-width="0.45"/>
<circle cx="227.06" cy="245.4" r="0.85" fill="#f4f4f4" stroke="#9a9a9a" stroke-width="0.45"/>
<circle cx="231.9" cy="245.4" r="0.85" fill="#f4f4f4" stroke="#9a9a9a" stroke-width="0.45"/>
<circle cx="236.74" cy="245.4" r="0.85" fill="#f4f4f4" stroke="#9a9a9a" stroke-width="0.45"/>
<circle cx="241.58" cy="245.4" r="0.85" fill="#f4f4f4" stroke="#9a9a9a" stroke-width="0.45"/>
<circle cx="246.42" cy="245.4" r="0.85" fill="#f4f4f4" stroke="#9a9a9a" stroke-width="0.45"/>
<circle cx="251.26" cy="245.4" r="0.85" fill="#f4f4f4" stroke="#9a9a9a" stroke-width="0.45"/>
<circle cx="256.1" cy="245.4" r="0.85" fill="#f4f4f4" stroke="#9a9a9a" stroke-width="0.45"/>
<circle cx="260.94" cy="245.4" r="0.85" fill="#f4f4f4" stroke="#9a9a9a" stroke-width="0.45"/>
<circle cx="265.78" cy="245.4" r="0.85" fill="#f4f4f4" stroke="#9a9a9a" stroke-width="0.45"/>
<circle cx="270.62" cy="245.4" r="0.85" fill="#f4f4f4" stroke="#9a9a9a" stroke-width="0.45"/>
<circle cx="275.46" cy="245.4" r="0.85" fill="#f4f4f4" stroke="#9a9a9a" stroke-width="0.45"/>
<circle cx="280.3" cy="245.4" r="0.85" fill="#f4f4f4" stroke="#9a9a9a" stroke-width="0.45"/>
<circle cx="285.14" cy="245.4" r="0.85" fill="#f4f4f4" stroke="#9a9a9a" stroke-width="0.45"/>
<circle cx="289.98" cy="245.4" r="0.85" fill="#f4f4f4" stroke="#9a9a9a" stroke-width="0.45"/>
<circle cx="294.82" cy="245.4" r="0.85" fill="#f4f4f4" stroke="#9a9a9a" stroke-width="0.45"/>
<circle cx="299.66" cy="245.4" r="0.85" fill="#f4f4f4" stroke="#9a9a9a" stroke-width="0.45"/>
<circle cx="304.5" cy="245.4" r="0.85" fill="#f4f4f4" stroke="#9a9a9a" stroke-width="0.45"/>
<circle cx="309.34" cy="245.4" r="0.85" fill="#f4f4f4" stroke="#9a9a9a" stroke-width="0.45"/>
<circle cx="314.18" cy="245.4" r="0.85" fill="#f4f4f4" stroke="#9a9a9a" stroke-width="0.45"/>
<circle cx="319.02" cy="245.4" r="0.85" fill="#f4f4f4" stroke="#9a9a9a" stroke-width="0.45"/>
<circle cx="323.86" cy="245.4" r="0.85" fill="#f4f4f4" stroke="#9a9a9a" stroke-width="0.45"/>
<circle cx="328.7" cy="245.4" r="0.85" fill="#f4f4f4" stroke="#9a9a9a" stroke-width="0.45"/>
<circle cx="333.54" cy="245.4" r="0.85" fill="#f4f4f4" stroke="#9a9a9a" stroke-width="0.45"/>
<circle cx="338.38" cy="245.4" r="0.85" fill="#f4f4f4" stroke="#9a9a9a" stroke-width="0.45"/>
<circle cx="343.22" cy="245.4" r="0.85" fill="#f4f4f4" stroke="#9a9a9a" stroke-width="0.45"/>
<circle cx="348.06" cy="245.4" r="0.85" fill="#f4f4f4" stroke="#9a9a9a" stroke-width="0.45"/>
<circle cx="352.9" cy="245.4" r="0.85" fill="#f4f4f4" stroke="#9a9a9a" stroke-width="0.45"/>
<circle cx="357.74" cy="245.4" r="0.85" fill="#f4f4f4" stroke="#9a9a9a" stroke-width="0.45"/>
<circle cx="362.58" cy="245.4" r="0.85" fill="#f4f4f4" stroke="#9a9a9a" stroke-width="0.45"/>
<circle cx="367.42" cy="245.4" r="0.85" fill="#f4f4f4" stroke="#9a9a9a" stroke-width="0.45"/>
<circle cx="372.26" cy="245.4" r="0.85" fill="#f4f4f4" stroke="#9a9a9a" stroke-width="0.45"/>
<circle cx="377.1" cy="245.4" r="0.85" fill="#f4f4f4" stroke="#9a9a9a" stroke-width="0.45"/>
<circle cx="381.94" cy="245.4" r="0.85" fill="#f4f4f4" stroke="#9a9a9a" stroke-width="0.45"/>
<circle cx="386.78" cy="245.4" r="0.85" fill="#f4f4f4" stroke="#9a9a9a" stroke-width="0.45"/>
<circle cx="391.62" cy="245.4" r="0.85" fill="#f4f4f4" stroke="#9a9a9a" stroke-width="0.45"/>
<circle cx="396.46" cy="245.4" r="0.85" fill="#f4f4f4" stroke="#9a9a9a" stroke-width="0.45"/>
<circle cx="401.3" cy="245.4" r="0.85" fill="#f4f4f4" stroke="#9a9a9a" stroke-width="0.45"/>
<circle cx="406.14" cy="245.4" r="0.85" fill="#f4f4f4" stroke="#9a9a9a" stroke-width="0.45"/>
<circle cx="410.98" cy="245.4" r="0.85" fill="#f4f4f4" stroke="#9a9a9a" stroke-width="0.45"/>
<rect x="181.2" y="248.3" width="58.4" height="16.4" rx="1.8" fill="#d6d6d6" stroke="#262626" stroke-width="0.8"/>
<rect x="181.7" y="255.1" width="57.4" height="2.9" fill="#ededed"/>
<rect x="182" y="249.9" width="8.1" height="5" fill="#3a3a3a"/>
<rect x="184" y="249.3" width="4.1" height="0.8" fill="#3a3a3a"/>
<rect x="182" y="258.2" width="8.1" height="4.9" fill="#3a3a3a"/>
<rect x="184" y="263" width="4.1" height="0.8" fill="#3a3a3a"/>
<rect x="191.7" y="249.9" width="8.1" height="5" fill="#3a3a3a"/>
<rect x="193.7" y="249.3" width="4.1" height="0.8" fill="#3a3a3a"/>
<rect x="191.7" y="258.2" width="8.1" height="4.9" fill="#3a3a3a"/>
<rect x="193.7" y="263" width="4.1" height="0.8" fill="#3a3a3a"/>
<rect x="201.4" y="249.9" width="8.1" height="5" fill="#3a3a3a"/>
<rect x="203.4" y="249.3" width="4.1" height="0.8" fill="#3a3a3a"/>
<rect x="201.4" y="258.2" width="8.1" height="4.9" fill="#3a3a3a"/>
<rect x="203.4" y="263" width="4.1" height="0.8" fill="#3a3a3a"/>
<rect x="211.1" y="249.9" width="8.1" height="5" fill="#3a3a3a"/>
<rect x="213.1" y="249.3" width="4.1" height="0.8" fill="#3a3a3a"/>
<rect x="211.1" y="258.2" width="8.1" height="4.9" fill="#3a3a3a"/>
<rect x="213.1" y="263" width="4.1" height="0.8" fill="#3a3a3a"/>
<rect x="220.8" y="249.9" width="8.1" height="5" fill="#3a3a3a"/>
<rect x="222.8" y="249.3" width="4.1" height="0.8" fill="#3a3a3a"/>
<rect x="220.8" y="258.2" width="8.1" height="4.9" fill="#3a3a3a"/>
<rect x="222.8" y="263" width="4.1" height="0.8" fill="#3a3a3a"/>
<rect x="230.5" y="249.9" width="8.1" height="5" fill="#3a3a3a"/>
<rect x="232.5" y="249.3" width="4.1" height="0.8" fill="#3a3a3a"/>
<rect x="230.5" y="258.2" width="8.1" height="4.9" fill="#3a3a3a"/>
<rect x="232.5" y="263" width="4.1" height="0.8" fill="#3a3a3a"/>
<rect x="241.5" y="248.3" width="58.4" height="16.4" rx="1.8" fill="#d6d6d6" stroke="#262626" stroke-width="0.8"/>
<rect x="242" y="255.1" width="57.4" height="2.9" fill="#ededed"/>
<rect x="242.3" y="249.9" width="8.1" height="5" fill="#3a3a3a"/>
<rect x="244.3" y="249.3" width="4.1" height="0.8" fill="#3a3a3a"/>
<rect x="242.3" y="258.2" width="8.1" height="4.9" fill="#3a3a3a"/>
<rect x="244.3" y="263" width="4.1" height="0.8" fill="#3a3a3a"/>
<rect x="252" y="249.9" width="8.1" height="5" fill="#3a3a3a"/>
<rect x="254" y="249.3" width="4.1" height="0.8" fill="#3a3a3a"/>
<rect x="252" y="258.2" width="8.1" height="4.9" fill="#3a3a3a"/>
<rect x="254" y="263" width="4.1" height="0.8" fill="#3a3a3a"/>
<rect x="261.7" y="249.9" width="8.1" height="5" fill="#3a3a3a"/>
<rect x="263.7" y="249.3" width="4.1" height="0.8" fill="#3a3a3a"/>
<rect x="261.7" y="258.2" width="8.1" height="4.9" fill="#3a3a3a"/>
<rect x="263.7" y="263" width="4.1" height="0.8" fill="#3a3a3a"/>
<rect x="271.4" y="249.9" width="8.1" height="5" fill="#3a3a3a"/>
<rect x="273.4" y="249.3" width="4.1" height="0.8" fill="#3a3a3a"/>
<rect x="271.4" y="258.2" width="8.1" height="4.9" fill="#3a3a3a"/>
<rect x="273.4" y="263" width="4.1" height="0.8" fill="#3a3a3a"/>
<rect x="281.1" y="249.9" width="8.1" height="5" fill="#3a3a3a"/>
<rect x="283.1" y="249.3" width="4.1" height="0.8" fill="#3a3a3a"/>
<rect x="281.1" y="258.2" width="8.1" height="4.9" fill="#3a3a3a"/>
<rect x="283.1" y="263" width="4.1" height="0.8" fill="#3a3a3a"/>
<rect x="290.8" y="249.9" width="8.1" height="5" fill="#3a3a3a"/>
<rect x="292.8" y="249.3" width="4.1" height="0.8" fill="#3a3a3a"/>
<rect x="290.8" y="258.2" width="8.1" height="4.9" fill="#3a3a3a"/>
<rect x="292.8" y="263" width="4.1" height="0.8" fill="#3a3a3a"/>
<rect x="302.2" y="248.3" width="58.4" height="16.4" rx="1.8" fill="#d6d6d6" stroke="#262626" stroke-width="0.8"/>
<rect x="302.7" y="255.1" width="57.4" height="2.9" fill="#ededed"/>
<rect x="303" y="249.9" width="8.1" height="5" fill="#3a3a3a"/>
<rect x="305" y="249.3" width="4.1" height="0.8" fill="#3a3a3a"/>
<rect x="303" y="258.2" width="8.1" height="4.9" fill="#3a3a3a"/>
<rect x="305" y="263" width="4.1" height="0.8" fill="#3a3a3a"/>
<rect x="312.7" y="249.9" width="8.1" height="5" fill="#3a3a3a"/>
<rect x="314.7" y="249.3" width="4.1" height="0.8" fill="#3a3a3a"/>
<rect x="312.7" y="258.2" width="8.1" height="4.9" fill="#3a3a3a"/>
<rect x="314.7" y="263" width="4.1" height="0.8" fill="#3a3a3a"/>
<rect x="322.4" y="249.9" width="8.1" height="5" fill="#3a3a3a"/>
<rect x="324.4" y="249.3" width="4.1" height="0.8" fill="#3a3a3a"/>
<rect x="322.4" y="258.2" width="8.1" height="4.9" fill="#3a3a3a"/>
<rect x="324.4" y="263" width="4.1" height="0.8" fill="#3a3a3a"/>
<rect x="332.1" y="249.9" width="8.1" height="5" fill="#3a3a3a"/>
<rect x="334.1" y="249.3" width="4.1" height="0.8" fill="#3a3a3a"/>
<rect x="332.1" y="258.2" width="8.1" height="4.9" fill="#3a3a3a"/>
<rect x="334.1" y="263" width="4.1" height="0.8" fill="#3a3a3a"/>
<rect x="341.8" y="249.9" width="8.1" height="5" fill="#3a3a3a"/>
<rect x="343.8" y="249.3" width="4.1" height="0.8" fill="#3a3a3a"/>
<rect x="341.8" y="258.2" width="8.1" height="4.9" fill="#3a3a3a"/>
<rect x="343.8" y="263" width="4.1" height="0.8" fill="#3a3a3a"/>
<rect x="351.5" y="249.9" width="8.1" height="5" fill="#3a3a3a"/>
<rect x="353.5" y="249.3" width="4.1" height="0.8" fill="#3a3a3a"/>
<rect x="351.5" y="258.2" width="8.1" height="4.9" fill="#3a3a3a"/>
<rect x="353.5" y="263" width="4.1" height="0.8" fill="#3a3a3a"/>
<rect x="362.8" y="248.3" width="58.4" height="16.4" rx="1.8" fill="#d6d6d6" stroke="#262626" stroke-width="0.8"/>
<rect x="363.3" y="255.1" width="57.4" height="2.9" fill="#ededed"/>
<rect x="363.6" y="249.9" width="8.1" height="5" fill="#3a3a3a"/>
<rect x="365.6" y="249.3" width="4.1" height="0.8" fill="#3a3a3a"/>
<rect x="363.6" y="258.2" width="8.1" height="4.9" fill="#3a3a3a"/>
<rect x="365.6" y="263" width="4.1" height="0.8" fill="#3a3a3a"/>
<rect x="373.3" y="249.9" width="8.1" height="5" fill="#3a3a3a"/>
<rect x="375.3" y="249.3" width="4.1" height="0.8" fill="#3a3a3a"/>
<rect x="373.3" y="258.2" width="8.1" height="4.9" fill="#3a3a3a"/>
<rect x="375.3" y="263" width="4.1" height="0.8" fill="#3a3a3a"/>
<rect x="383" y="249.9" width="8.1" height="5" fill="#3a3a3a"/>
<rect x="385" y="249.3" width="4.1" height="0.8" fill="#3a3a3a"/>
<rect x="383" y="258.2" width="8.1" height="4.9" fill="#3a3a3a"/>
<rect x="385" y="263" width="4.1" height="0.8" fill="#3a3a3a"/>
<rect x="392.7" y="249.9" width="8.1" height="5" fill="#3a3a3a"/>
<rect x="394.7" y="249.3" width="4.1" height="0.8" fill="#3a3a3a"/>
<rect x="392.7" y="258.2" width="8.1" height="4.9" fill="#3a3a3a"/>
<rect x="394.7" y="263" width="4.1" height="0.8" fill="#3a3a3a"/>
<rect x="402.4" y="249.9" width="8.1" height="5" fill="#3a3a3a"/>
<rect x="404.4" y="249.3" width="4.1" height="0.8" fill="#3a3a3a"/>
<rect x="402.4" y="258.2" width="8.1" height="4.9" fill="#3a3a3a"/>
<rect x="404.4" y="263" width="4.1" height="0.8" fill="#3a3a3a"/>
<rect x="412.1" y="249.9" width="8.1" height="5" fill="#3a3a3a"/>
<rect x="414.1" y="249.3" width="4.1" height="0.8" fill="#3a3a3a"/>
<rect x="412.1" y="258.2" width="8.1" height="4.9" fill="#3a3a3a"/>
<rect x="414.1" y="263" width="4.1" height="0.8" fill="#3a3a3a"/>
<path d="M412,239.8 L459,239.8 L459,246.5 L421.5,246.5 L414,243.1 Z" fill="#0b0b0b"/>
<line x1="425" y1="244.6" x2="456" y2="244.6" stroke="#3a3a3a" stroke-width="0.8" stroke-dasharray="3 1"/>
<rect x="423.3" y="247.6" width="11" height="7.4" rx="0.8" fill="#141414"/>
<rect x="424.8" y="248.8" width="8" height="4.6" fill="#4a4a4a"/>
<rect x="425.9" y="249.2" width="1.7" height="1.7" fill="#9a9a9a"/>
<rect x="429.5" y="249.2" width="1.7" height="1.7" fill="#9a9a9a"/>
<rect x="425.3" y="251.8" width="7" height="0.6" fill="#6d5a3a"/>
<rect x="423.3" y="258.2" width="11" height="7.4" rx="0.8" fill="#141414"/>
<rect x="424.8" y="259.4" width="8" height="4.6" fill="#4a4a4a"/>
<rect x="425.9" y="259.8" width="1.7" height="1.7" fill="#9a9a9a"/>
<rect x="429.5" y="259.8" width="1.7" height="1.7" fill="#9a9a9a"/>
<rect x="425.3" y="262.4" width="7" height="0.6" fill="#6d5a3a"/>
<circle cx="436.9" cy="250.9" r="0.85" fill="#555"/>
<circle cx="436.9" cy="261.8" r="0.85" fill="#555"/>
<rect x="439.1" y="247.6" width="11" height="7.4" rx="0.8" fill="#141414"/>
<rect x="440.6" y="248.8" width="8" height="4.6" fill="#4a4a4a"/>
<rect x="441.7" y="249.2" width="1.7" height="1.7" fill="#9a9a9a"/>
<rect x="445.3" y="249.2" width="1.7" height="1.7" fill="#9a9a9a"/>
<rect x="441.1" y="251.8" width="7" height="0.6" fill="#6d5a3a"/>
<rect x="439.1" y="258.2" width="11" height="7.4" rx="0.8" fill="#141414"/>
<rect x="440.6" y="259.4" width="8" height="4.6" fill="#4a4a4a"/>
<rect x="441.7" y="259.8" width="1.7" height="1.7" fill="#9a9a9a"/>
<rect x="445.3" y="259.8" width="1.7" height="1.7" fill="#9a9a9a"/>
<rect x="441.1" y="262.4" width="7" height="0.6" fill="#6d5a3a"/>
<circle cx="452.7" cy="250.9" r="0.85" fill="#555"/>
<circle cx="452.7" cy="261.8" r="0.85" fill="#555"/>
</g>
<g id="r2">
<rect x="206.4" y="369" width="9" height="19.6" rx="0.8" fill="#ababab" stroke="#222" stroke-width="0.8"/>
<rect x="414.4" y="369" width="9" height="19.6" rx="0.8" fill="#ababab" stroke="#222" stroke-width="0.8"/>
<rect x="208.5" y="370.7" width="4.8" height="2.4" rx="1.2" fill="#f6f6f6" stroke="#222" stroke-width="0.8"/>
<rect x="208.5" y="377.6" width="4.8" height="2.4" rx="1.2" fill="#f6f6f6" stroke="#222" stroke-width="0.8"/>
<rect x="208.5" y="384.4" width="4.8" height="2.4" rx="1.2" fill="#f6f6f6" stroke="#222" stroke-width="0.8"/>
<rect x="416.5" y="370.7" width="4.8" height="2.4" rx="1.2" fill="#f6f6f6" stroke="#222" stroke-width="0.8"/>
<rect x="416.5" y="377.6" width="4.8" height="2.4" rx="1.2" fill="#f6f6f6" stroke="#222" stroke-width="0.8"/>
<rect x="416.5" y="384.4" width="4.8" height="2.4" rx="1.2" fill="#f6f6f6" stroke="#222" stroke-width="0.8"/>
<rect x="215" y="368.9" width="199.6" height="19.8" fill="#0d0d0d"/>
<rect x="216.3" y="371" width="72.7" height="16.1" fill="#c9c9c9"/>
<rect x="229" y="371" width="8" height="4.8" fill="#111"/>
<rect x="230" y="374.4" width="6" height="0.8" fill="#555"/>
<rect x="244.8" y="371" width="8" height="4.8" fill="#111"/>
<rect x="245.8" y="374.4" width="6" height="0.8" fill="#555"/>
<rect x="260.5" y="371" width="8" height="4.8" fill="#111"/>
<rect x="261.5" y="374.4" width="6" height="0.8" fill="#555"/>
<rect x="276" y="371" width="8" height="4.8" fill="#111"/>
<rect x="277" y="374.4" width="6" height="0.8" fill="#555"/>
<rect x="217" y="372" width="9.5" height="1.2" fill="#222"/><rect x="217" y="374" width="7" height="1.2" fill="#222"/>
<line x1="216.5" y1="376.4" x2="288" y2="376.4" stroke="#d9a7b2" stroke-width="0.6"/>
<rect x="216.8" y="378.8" width="9.8" height="7.6" fill="#141414"/>
<rect x="217.5" y="379.6" width="1.1" height="1.1" fill="#7a7a7a"/>
<rect x="219.8" y="379.6" width="1.1" height="1.1" fill="#7a7a7a"/>
<rect x="222.1" y="379.6" width="1.1" height="1.1" fill="#7a7a7a"/>
<rect x="224.4" y="379.6" width="1.1" height="1.1" fill="#7a7a7a"/>
<rect x="217.5" y="381.8" width="1.1" height="1.1" fill="#7a7a7a"/>
<rect x="219.8" y="381.8" width="1.1" height="1.1" fill="#7a7a7a"/>
<rect x="222.1" y="381.8" width="1.1" height="1.1" fill="#7a7a7a"/>
<rect x="224.4" y="381.8" width="1.1" height="1.1" fill="#7a7a7a"/>
<rect x="217.5" y="384" width="1.1" height="1.1" fill="#7a7a7a"/>
<rect x="219.8" y="384" width="1.1" height="1.1" fill="#7a7a7a"/>
<rect x="222.1" y="384" width="1.1" height="1.1" fill="#7a7a7a"/>
<rect x="224.4" y="384" width="1.1" height="1.1" fill="#7a7a7a"/>
<rect x="271.6" y="378.8" width="16.6" height="7.6" fill="#141414"/>
<rect x="272.3" y="379.6" width="1.1" height="1.1" fill="#7a7a7a"/>
<rect x="274.6" y="379.6" width="1.1" height="1.1" fill="#7a7a7a"/>
<rect x="276.9" y="379.6" width="1.1" height="1.1" fill="#7a7a7a"/>
<rect x="279.2" y="379.6" width="1.1" height="1.1" fill="#7a7a7a"/>
<rect x="281.5" y="379.6" width="1.1" height="1.1" fill="#7a7a7a"/>
<rect x="283.8" y="379.6" width="1.1" height="1.1" fill="#7a7a7a"/>
<rect x="286.1" y="379.6" width="1.1" height="1.1" fill="#7a7a7a"/>
<rect x="272.3" y="381.8" width="1.1" height="1.1" fill="#7a7a7a"/>
<rect x="274.6" y="381.8" width="1.1" height="1.1" fill="#7a7a7a"/>
<rect x="276.9" y="381.8" width="1.1" height="1.1" fill="#7a7a7a"/>
<rect x="279.2" y="381.8" width="1.1" height="1.1" fill="#7a7a7a"/>
<rect x="281.5" y="381.8" width="1.1" height="1.1" fill="#7a7a7a"/>
<rect x="283.8" y="381.8" width="1.1" height="1.1" fill="#7a7a7a"/>
<rect x="286.1" y="381.8" width="1.1" height="1.1" fill="#7a7a7a"/>
<rect x="272.3" y="384" width="1.1" height="1.1" fill="#7a7a7a"/>
<rect x="274.6" y="384" width="1.1" height="1.1" fill="#7a7a7a"/>
<rect x="276.9" y="384" width="1.1" height="1.1" fill="#7a7a7a"/>
<rect x="279.2" y="384" width="1.1" height="1.1" fill="#7a7a7a"/>
<rect x="281.5" y="384" width="1.1" height="1.1" fill="#7a7a7a"/>
<rect x="283.8" y="384" width="1.1" height="1.1" fill="#7a7a7a"/>
<rect x="286.1" y="384" width="1.1" height="1.1" fill="#7a7a7a"/>
<rect x="217.5" y="384.3" width="2.4" height="2.6" fill="#eee"/>
<rect x="234.2" y="378.6" width="3.4" height="7.8" rx="1.7" fill="#bbb" stroke="#1a1a1a" stroke-width="0.9"/>
<rect x="229" y="379.5" width="2.5" height="0.7" fill="#666"/><rect x="240" y="379.5" width="2.5" height="0.7" fill="#666"/>
<rect x="229" y="381.8" width="2.5" height="0.7" fill="#666"/><rect x="240" y="381.8" width="2.5" height="0.7" fill="#666"/>
<rect x="229" y="384" width="2.5" height="0.7" fill="#666"/><rect x="240" y="384" width="2.5" height="0.7" fill="#666"/>
<rect x="246.3" y="378.3" width="8.8" height="7.2" rx="1" fill="#6e6e6e" stroke="#1a1a1a" stroke-width="0.9"/>
<rect x="256" y="378.3" width="14" height="7.2" rx="1" fill="#6e6e6e" stroke="#1a1a1a" stroke-width="0.9"/>
<line x1="263" y1="378.8" x2="263" y2="385" stroke="#333" stroke-width="0.6"/>
<rect x="289.6" y="371" width="49" height="16" fill="#111"/>
<path d="M289.6,371 L338.6,371 L338.6,372.4 L291,372.4 L291,387 L289.6,387 Z" fill="#bdbdbd"/>
<line x1="293" y1="374.5" x2="333" y2="374.5" stroke="#555" stroke-width="0.7" stroke-dasharray="0.7 1.4"/>
<line x1="293" y1="376.6" x2="333" y2="376.6" stroke="#555" stroke-width="0.7" stroke-dasharray="0.7 1.4"/>
<line x1="293" y1="378.7" x2="333" y2="378.7" stroke="#555" stroke-width="0.7" stroke-dasharray="0.7 1.4"/>
<rect x="292.5" y="381.2" width="7" height="4" fill="#2a2a2a"/>
<rect x="302.5" y="381.2" width="7" height="4" fill="#2a2a2a"/>
<rect x="312.5" y="381.2" width="7" height="4" fill="#2a2a2a"/>
<rect x="322.5" y="381.2" width="7" height="4" fill="#2a2a2a"/>
<rect x="300.2" y="380.6" width="1.6" height="4.8" fill="#d0d0d0"/>
<rect x="310.2" y="380.6" width="1.6" height="4.8" fill="#d0d0d0"/>
<rect x="320.2" y="380.6" width="1.6" height="4.8" fill="#d0d0d0"/>
<line x1="291.5" y1="386.2" x2="338" y2="386.2" stroke="#cfc89a" stroke-width="0.8"/>
<ellipse cx="331.5" cy="384.6" rx="2.2" ry="1.2" fill="#b8b070"/>
<rect x="334" y="373.2" width="4.2" height="4.6" fill="#111" stroke="#ddd" stroke-width="0.4"/>
<rect x="335" y="374.3" width="2.2" height="2.4" fill="#aaa"/>
<rect x="339" y="371" width="75.4" height="16" fill="#cfcfcf"/>
<rect x="340" y="371.6" width="61" height="1" fill="#777"/>
<rect x="340.5" y="372.9" width="60.5" height="5.8" fill="#f5f5f5" stroke="#333" stroke-width="0.6"/>
<rect x="339.3" y="372.8" width="2.2" height="6" fill="#f5f5f5" stroke="#111" stroke-width="0.6"/>
<rect x="400.2" y="372.5" width="2.2" height="6.3" fill="#f5f5f5" stroke="#111" stroke-width="0.6"/>
<rect x="403" y="373.4" width="5" height="4.6" fill="#111"/><rect x="404.2" y="374.4" width="2.6" height="2.6" fill="#bbb"/>
<line x1="340" y1="379.5" x2="400" y2="379.5" stroke="#777" stroke-width="0.6"/>
<rect x="339.5" y="381.5" width="62" height="5" fill="#111"/>
<line x1="340" y1="384" x2="401" y2="384" stroke="#888" stroke-width="0.7" stroke-dasharray="0.7 1.2"/>
<circle cx="406.5" cy="384.2" r="0.9" fill="#111"/>
</g>
<g font-size="14">
  <text x="121.3" y="98.8" text-anchor="middle">SEA/Westin</text>
  <text x="121.3" y="115.6" text-anchor="middle">ASR1Ks</text>
  <text x="121.6" y="132.5" text-anchor="middle">2016.01.29</text>
  <text x="682.7" y="61.9" text-anchor="middle">dum0.sea</text>
</g>
<g font-size="12">
  <text x="420.7" y="146.9" text-anchor="middle">sw2.sea</text>
  <text x="420.5" y="160.7" text-anchor="middle">Cisco</text>
  <text x="420.4" y="173.7" text-anchor="middle">c3750g-24ps</text>
  <text x="113.5" y="241.6" text-anchor="middle">sw0.sea</text>
  <text x="113.6" y="256" text-anchor="middle">Cisco</text>
  <text x="113.5" y="269.9" text-anchor="middle">c3750g-24ps</text>
  <text x="149.3" y="368.6" text-anchor="middle">r2.sea</text>
  <text x="149.1" y="382.7" text-anchor="middle">Cisco ASR1001</text>
</g>
<g font-size="8">
  <text x="565.2" y="94.2">147.28.2.130/30</text>
  <text x="653" y="94.2">147.28.2.134/30</text>
  <text x="532.1" y="117.5">vlan 128</text>
  <text x="594" y="120.7">vlan 132</text>
  <text x="393.7" y="192.4">147.28.0.246/24</text>
  <text x="440.6" y="157.2">vlan 128</text>
  <text x="491.8" y="156.7">vlan 132</text>
  <text x="84.8" y="282.8">147.28.0.253/24</text>
  <text x="150" y="398.7" text-anchor="middle">147.28.7.6/32</text>
  <text x="149.8" y="408" text-anchor="middle">2001:418::7:6/128</text>
  <text x="251.8" y="355">147.28.0.9/24</text>
  <text x="249" y="364">2001:418::9/64</text>
  <text x="328.7" y="361.4">147.28.2.129/30</text>
</g>
<g stroke="#7b2579" stroke-width="3.0" stroke-linecap="round" fill="none">
  <line x1="246" y1="260.5" x2="295.7" y2="383.3"/>
  <line x1="416" y1="261.2" x2="571.4" y2="159.8"/>
  <line x1="305" y1="383.2" x2="656.4" y2="169.6"/>
  <line x1="656" y1="80.2" x2="708.7" y2="157"/>
  <line x1="715.3" y1="74.8" x2="708.7" y2="171.2"/>
</g>
</svg>
</body></html>
